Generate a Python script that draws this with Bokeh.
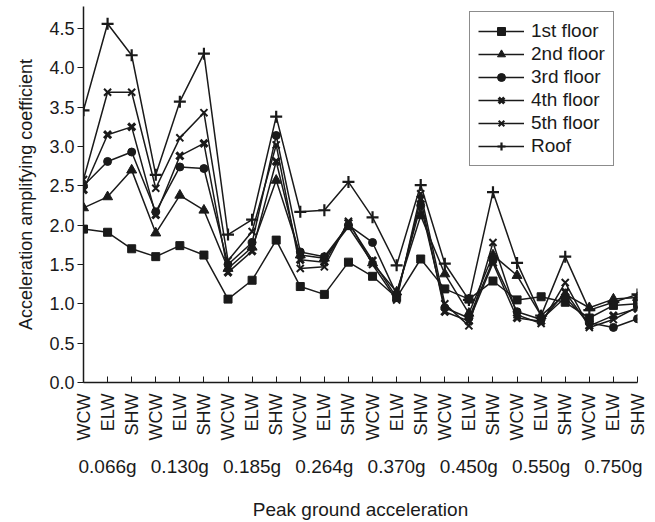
import math
from bokeh.plotting import figure
from bokeh.models import (FixedTicker, LinearAxis, Range1d, Legend, LegendItem,
                          NumeralTickFormatter, ColumnDataSource)
from bokeh.embed import file_html
from bokeh.resources import INLINE

# ---- data ----
walls = ["WCW", "ELW", "SHW"]
pga = ["0.066g", "0.130g", "0.185g", "0.264g", "0.370g", "0.450g", "0.550g", "0.750g"]
categories = [w for g in pga for w in walls]

floor1 = [1.95, 1.91, 1.70, 1.60, 1.74, 1.62, 1.06, 1.30, 1.81, 1.22, 1.12, 1.53,
          1.35, 1.08, 1.57, 1.19, 1.06, 1.29, 1.05, 1.09, 1.02, 0.82, 0.98, 1.00]
floor2 = [2.22, 2.36, 2.70, 1.90, 2.38, 2.19, 1.45, 1.72, 2.57, 1.62, 1.58, 1.98,
          1.52, 1.15, 2.12, 1.38, 0.88, 1.62, 1.36, 0.85, 1.12, 0.95, 1.06, 1.08]
floor3 = [2.50, 2.81, 2.93, 2.17, 2.74, 2.72, 1.50, 1.78, 3.14, 1.66, 1.60, 2.00,
          1.78, 1.12, 2.25, 0.95, 0.82, 1.55, 0.90, 0.80, 1.08, 0.76, 0.70, 0.81]
floor4 = [2.45, 3.15, 3.25, 2.13, 2.88, 3.04, 1.40, 1.67, 2.81, 1.56, 1.53, 2.03,
          1.55, 1.08, 2.33, 0.90, 0.78, 1.52, 0.82, 0.78, 1.15, 0.72, 0.85, 0.94]
floor5 = [2.58, 3.69, 3.69, 2.47, 3.11, 3.43, 1.55, 1.92, 3.02, 1.45, 1.47, 2.05,
          1.50, 1.05, 2.40, 1.00, 0.72, 1.78, 0.86, 0.75, 1.27, 0.70, 0.80, 0.96]
roof = [3.46, 4.56, 4.16, 2.64, 3.57, 4.18, 1.88, 2.07, 3.38, 2.17, 2.19, 2.55,
        2.10, 1.49, 2.51, 1.51, 1.05, 2.42, 1.52, 0.85, 1.60, 0.92, 1.02, 1.12]

series_names = ["1st floor", "2nd floor", "3rd floor", "4th floor", "5th floor", "Roof"]
series_values = [floor1, floor2, floor3, floor4, floor5, roof]
y_ticks = [0.0, 0.5, 1.0, 1.5, 2.0, 2.5, 3.0, 3.5, 4.0, 4.5]

# ---- styles ----
FONT = "Liberation Sans"
INK = "#1a1a1a"
marker_styles = [
    dict(marker="square", size=8, line_width=1),
    dict(marker="triangle", size=10, line_width=1),
    dict(marker="circle", size=8, line_width=1),
    dict(marker="x", size=10, line_width=3),
    dict(marker="x", size=10, line_width=2),
    dict(marker="cross", size=12, line_width=2.2),
]

xs = list(range(len(categories)))

p = figure(width=648, height=522,
           x_range=Range1d(0, len(categories) - 1), y_range=Range1d(0, 4.78),
           output_backend="svg", toolbar_location=None,
           min_border_left=83, min_border_right=11, min_border_top=6, min_border_bottom=139,
           background_fill_color="white", border_fill_color="white")
p.outline_line_color = None
p.xgrid.visible = False
p.ygrid.visible = False

items = []
for name, vals, st in zip(series_names, series_values, marker_styles):
    src = ColumnDataSource(dict(x=xs, y=vals))
    ln = p.line("x", "y", source=src, line_color=INK, line_width=1.5)
    sc = p.scatter("x", "y", source=src, marker=st["marker"], size=st["size"],
                   line_width=st["line_width"], line_color=INK, fill_color=INK)
    items.append(LegendItem(label=name, renderers=[ln, sc]))

# x axis (sub categories)
xa = p.xaxis[0]
xa.ticker = FixedTicker(ticks=xs, minor_ticks=[])
xa.major_label_overrides = {i: c for i, c in zip(xs, categories)}
xa.major_label_orientation = math.pi / 2
xa.major_tick_in = 6
xa.major_tick_out = 0
xa.minor_tick_line_color = None
xa.major_label_standoff = 11
xa.axis_line_width = 1.5
xa.axis_line_color = INK
xa.major_tick_line_color = INK
xa.major_label_text_font = FONT
xa.major_label_text_font_size = "18px"
xa.major_label_text_color = INK

# group axis (pga)
group_pos = [3 * i + 1 for i in range(len(pga))]
ga = LinearAxis(ticker=FixedTicker(ticks=group_pos, minor_ticks=[]),
                major_label_overrides={gp: g for gp, g in zip(group_pos, pga)})
ga.axis_line_color = None
ga.major_tick_line_color = None
ga.minor_tick_line_color = None
ga.major_tick_in = 0
ga.major_tick_out = 0
ga.major_label_standoff = 12
ga.major_label_text_font = FONT
ga.major_label_text_font_size = "19px"
ga.major_label_text_color = INK
ga.axis_label = "Peak ground acceleration"
ga.axis_label_standoff = 19
ga.axis_label_text_font = FONT
ga.axis_label_text_font_size = "19px"
ga.axis_label_text_font_style = "normal"
ga.axis_label_text_color = INK
p.add_layout(ga, "below")

# y axis
ya = p.yaxis[0]
ya.ticker = FixedTicker(ticks=y_ticks, minor_ticks=[])
ya.formatter = NumeralTickFormatter(format="0.0")
ya.major_tick_out = 6
ya.major_tick_in = 0
ya.minor_tick_line_color = None
ya.major_label_standoff = 3
ya.axis_line_width = 1.5
ya.axis_line_color = INK
ya.major_tick_line_color = INK
ya.major_label_text_font = FONT
ya.major_label_text_font_size = "18px"
ya.major_label_text_color = INK
ya.axis_label = "Acceleration amplifying coefficient"
ya.axis_label_standoff = 10
ya.axis_label_text_font = FONT
ya.axis_label_text_font_size = "18px"
ya.axis_label_text_font_style = "normal"
ya.axis_label_text_color = INK

legend = Legend(items=items, location=(386, 216))
legend.border_line_color = INK
legend.border_line_width = 1
legend.background_fill_color = "white"
legend.background_fill_alpha = 1
legend.glyph_width = 46
legend.glyph_height = 20
legend.label_height = 20
legend.spacing = 1
legend.padding = 8
legend.margin = 0
legend.label_standoff = 7
legend.label_text_font = FONT
legend.label_text_font_size = "19px"
legend.label_text_color = INK
p.add_layout(legend)

open("out.html", "w").write(file_html(p, INLINE))
